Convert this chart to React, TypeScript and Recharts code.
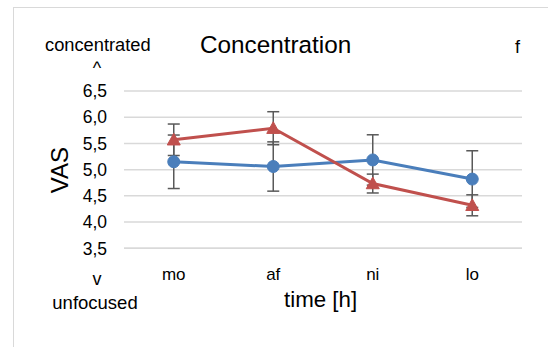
import React from 'react'
import { LineChart, Line, XAxis, YAxis, CartesianGrid, ErrorBar } from 'recharts'

const categories = ['mo', 'af', 'ni', 'lo']
const blueValues = [5.15, 5.06, 5.185, 4.82]
const blueErrors = [0.51, 0.47, 0.48, 0.54]
const redValues = [5.57, 5.79, 4.735, 4.32]
const redErrors = [0.3, 0.315, 0.18, 0.2]
const yTicks = [3.5, 4.0, 4.5, 5.0, 5.5, 6.0, 6.5]

const BLUE = '#4a7ebb'
const RED = '#c0504d'
const ERR = '#595959'
const GRID = '#d9d9d9'
const FONT = '"Liberation Sans", Arial, sans-serif'

const data = categories.map((c, i) => ({
  cat: c,
  blue: blueValues[i],
  blueErr: blueErrors[i],
  red: redValues[i],
  redErr: redErrors[i],
}))

function Triangle(props: any) {
  const { cx, cy } = props
  if (cx == null || cy == null) return null
  const s = 6.5
  return (
    <path
      d={`M${cx},${cy - s} L${cx + s},${cy + s * 0.8} L${cx - s},${cy + s * 0.8} Z`}
      fill={RED}
      stroke={RED}
    />
  )
}

const text = (style: React.CSSProperties): React.CSSProperties => ({
  position: 'absolute',
  fontFamily: FONT,
  color: '#000',
  whiteSpace: 'nowrap',
  lineHeight: 1,
  ...style,
})

export default function App() {
  return (
    <div style={{ position: 'absolute', left: 0, top: 0, width: 548, height: 347, overflow: 'hidden', background: '#fff' }}>
      <div style={{ position: 'absolute', left: 13, top: 7, width: 600, height: 400, border: `1px solid ${GRID}` }} />
      <LineChart
        width={548}
        height={347}
        data={data}
        margin={{ top: 91, right: 26, bottom: 68.7, left: 64 }}
        style={{ position: 'absolute', left: 0, top: 0 }}
      >
        <CartesianGrid vertical={false} stroke={GRID} strokeWidth={1.5} />
        <XAxis
          dataKey="cat"
          padding={{ left: 49.75, right: 49.75 }}
          axisLine={{ stroke: GRID, strokeWidth: 1.5 }}
          tickLine={false}
          tickMargin={13.5}
          tick={{ fontSize: 17, fill: '#000', fontFamily: FONT }}
        />
        <YAxis
          width={60}
          domain={[3.5, 6.5]}
          ticks={yTicks}
          interval={0}
          axisLine={false}
          tickLine={false}
          tickMargin={11}
          tick={{ fontSize: 17.5, fill: '#000', fontFamily: FONT }}
          tickFormatter={(v: number) => v.toFixed(1).replace('.', ',')}
        />
        <Line
          dataKey="blue"
          stroke={BLUE}
          strokeWidth={3}
          dot={{ r: 6, fill: BLUE, stroke: BLUE, strokeWidth: 1 }}
          isAnimationActive={false}
        >
          <ErrorBar dataKey="blueErr" width={6} stroke={ERR} strokeWidth={1.5} direction="y" />
        </Line>
        <Line
          dataKey="red"
          stroke={RED}
          strokeWidth={3}
          dot={<Triangle />}
          isAnimationActive={false}
        >
          <ErrorBar dataKey="redErr" width={6} stroke={ERR} strokeWidth={1.5} direction="y" />
        </Line>
      </LineChart>
      <div style={text({ left: 200, top: 32.7, fontSize: 24.3 })}>Concentration</div>
      <div style={text({ left: 45, width: 100, textAlign: 'center', top: 36.2, fontSize: 18.3 })}>concentrated</div>
      <div style={text({ left: 45, width: 104, textAlign: 'center', top: 59, fontSize: 18 })}>^</div>
      <div style={text({ left: 515, top: 37.8, fontSize: 18 })}>f</div>
      <div style={text({ left: 45, width: 104, textAlign: 'center', top: 269.8, fontSize: 18 })}>v</div>
      <div style={text({ left: 45, width: 100, textAlign: 'center', top: 293.5, fontSize: 18.5 })}>unfocused</div>
      <div style={text({ left: 284, top: 288.8, fontSize: 22.3 })}>time [h]</div>
      <div
        style={text({
          left: 59.5,
          top: 170,
          fontSize: 24,
          transform: 'translate(-50%, -50%) rotate(-90deg)',
        })}
      >
        VAS
      </div>
    </div>
  )
}
